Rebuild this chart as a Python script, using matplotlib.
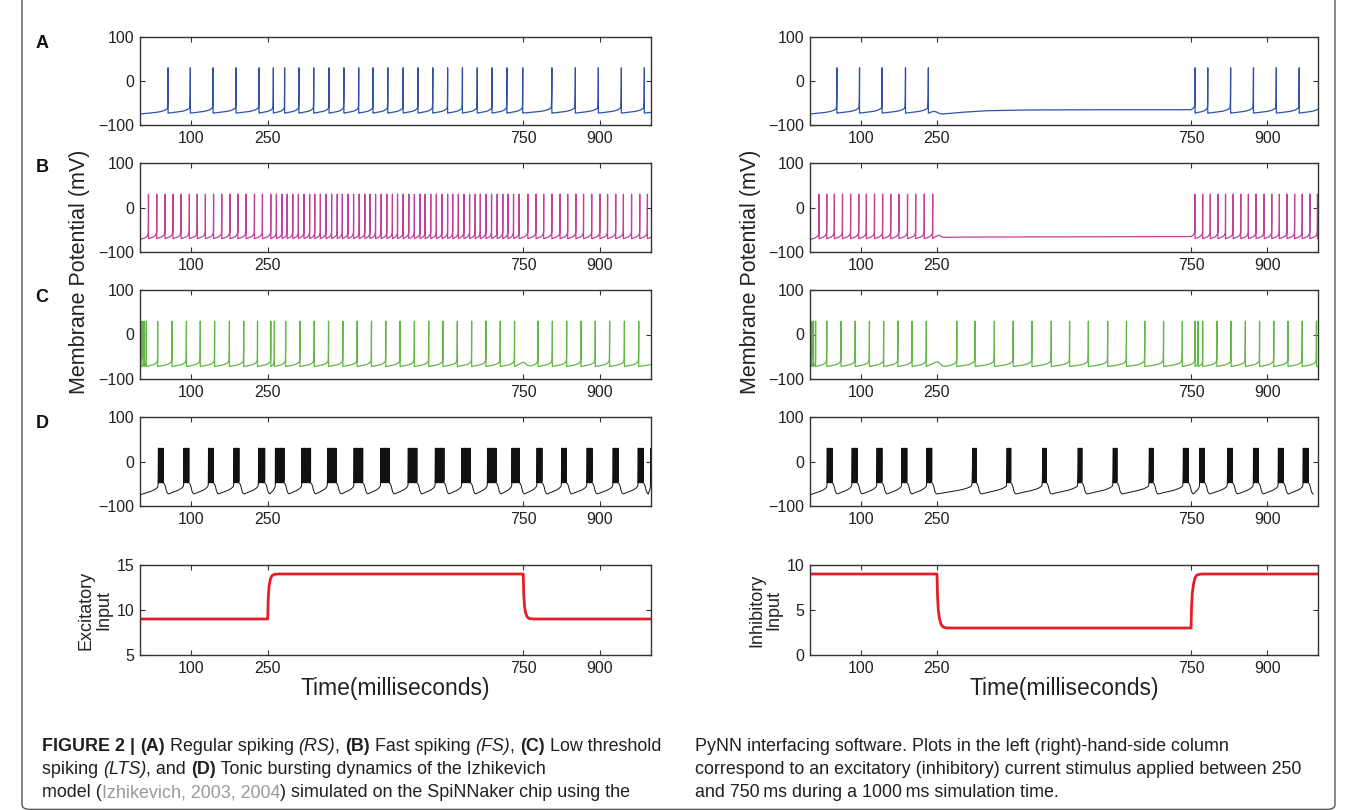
"""
Izhikevich neuron types on SpiNNaker: membrane potential traces for an
excitatory (left) and inhibitory (right) step stimulus, plus caption.
Output: out.png
"""

import numpy as np
import matplotlib
matplotlib.use("Agg")
import matplotlib.pyplot as plt
from matplotlib.patches import FancyBboxPatch

W, H = 1355, 810
FONT = ["Liberation Sans", "DejaVu Sans"]
plt.rcParams["font.family"] = FONT

TIME_TICKS = [100, 250, 750, 900]

# ---- spike times (ms) ----------------------------------------------------
RS_EXC = [55, 98.5, 143, 188, 233, 261, 283, 311, 340, 370, 399, 428, 456, 485,
          515, 544, 573, 602, 631, 660, 689, 718, 749, 806, 852, 897, 942, 987, 1030]
RS_INH = [53, 97.5, 142, 188, 233, 758, 783, 828, 873, 918, 963, 1004]
RS_INH_QUIET = [(240, -70), (245, -69), (250, -71), (255, -74), (262, -75),
                (300, -71), (350, -67.5), (420, -66), (500, -65.5), (750, -65.5)]

FS_EXC = [16.6, 32.8, 49, 64.4, 80.5, 96.6, 112, 128, 144, 160, 176, 191.6, 207.6,
          224, 239.6, 256, 267, 278, 288, 299, 310, 321, 332, 342, 353, 364, 375,
          386, 396, 407, 418, 429, 440, 450, 461, 472, 483, 494, 504, 515, 526,
          537, 548, 558, 569, 580, 591, 602, 612, 623, 634, 645, 656, 666, 677,
          688, 699, 710, 720, 731, 742, 759, 775, 790, 806, 822, 837, 853, 868,
          884, 900, 915, 931, 946, 962, 978, 993, 1009]
FS_INH = [17.8, 33, 48, 64, 80, 96, 111, 127, 143, 159, 175, 192, 208, 225, 241.5,
          758, 773, 788, 803, 818, 833, 848, 863, 878, 894, 909, 924, 939, 954,
          969, 984, 999, 1014]
FS_INH_QUIET = [(246, -66), (250, -64), (254, -62), (258, -65), (263, -67),
                (300, -66.5), (750, -65.5)]

LTS_EXC = [3.8, 8, 12.4, 34.6, 62.7, 90.9, 118, 146, 175, 203, 230, 256, 263, 285,
           313, 341, 369, 397, 425, 453, 481, 509, 537, 565, 593, 621, 649, 677,
           705, 733, 779, 807, 835, 863, 891, 919, 948, 976, 1012]
LTS_EXC_QUIET = [(742, -67), (747, -64), (750, -62), (754, -65), (759, -70),
                 (764, -71)]
LTS_INH = [3.4, 6.8, 11, 33, 61, 89, 117, 145, 173, 201, 229, 289, 325, 363, 400,
           437, 475, 511, 548, 586, 623, 659, 696, 733, 758, 764, 773, 801, 829,
           857, 885, 913, 941, 969, 997, 1030]
LTS_INH_QUIET = [(240, -66), (246, -63), (250, -61), (255, -64), (260, -70),
                 (266, -72)]

# tonic bursting: burst onsets (ms) and spikes per burst
TB_EXC_ON = [36, 86, 134, 184, 232, 265, 317, 367, 419, 471, 525, 578, 630, 680,
             728, 777, 825, 875, 926, 975, 999]
TB_EXC_N = [5, 5, 5, 5, 6, 8, 8, 8, 8, 8, 8, 8, 8, 8, 7, 5, 5, 5, 5, 5, 1]
TB_INH_ON = [34, 83, 132, 181, 230, 320, 388, 458, 528, 597, 668, 735, 767, 822,
             873, 922, 971]
TB_INH_N = [5, 5, 5, 5, 5, 4, 4, 4, 4, 4, 4, 5, 5, 5, 5, 5, 5]

# stimulus current, (time, value) points
EXC_T = [0, 250, 251, 252.5, 255, 258, 262, 270, 750, 751, 752.5, 755, 758, 762, 770, 1000]
EXC_V = [9, 9, 11.3, 12.6, 13.4, 13.8, 13.95, 14, 14, 11.7, 10.4, 9.6, 9.2, 9.05, 9, 9]
INH_T = [0, 250, 251, 252.5, 255, 258, 262, 270, 750, 751, 752.5, 755, 758, 762, 770, 1000]
INH_V = [9, 9, 6.6, 5.0, 4.0, 3.4, 3.1, 3, 3, 5.2, 6.8, 7.9, 8.6, 8.9, 9, 9]

COLORS = {"RS": "#2f52a6", "FS": "#c0409c", "LTS": "#62b746", "TB": "#111111",
          "input": "#e41e26"}


def rise(t0, t1, v_start, lin, curve, peak=30.0):
    n = max(int((t1 - t0) / 0.05), 6)
    s = np.linspace(0, 1, n)
    rest = peak - v_start - lin - curve
    return list(t0 + (t1 - t0) * s), list(v_start + lin * s + curve * s ** 6 + rest * s ** 150)


def spiking_trace(spikes, v0, v_reset, lin, curve, quiet=()):
    ts, vs = [], []
    pt, pv = 0.0, v0
    for sp in spikes:
        wps = [w for w in quiet if pt < w[0] < sp]
        if wps:
            ts += [pt] + [w[0] for w in wps]
            vs += [pv] + [w[1] for w in wps]
            pt, pv = wps[-1]
        a, b = rise(pt, sp, pv, lin, curve)
        ts += a
        vs += b
        pt, pv = sp, v_reset
    return np.array(ts), np.array(vs)


def burst_trace(onsets, counts, v0, gap=2.4):
    ts, vs = [], []
    pt, pv = 0.0, v0
    for on, n in zip(onsets, counts):
        a, b = rise(pt, on, pv, 13, 6)
        ts += a
        vs += b
        last = on
        for k in range(1, n):
            a, b = rise(last, last + gap, -48, 2, 3)
            ts += a
            vs += b
            last += gap
        decay_t = [last, last + 2, last + 4, last + 6, last + 8, last + 10]
        decay_v = [-48, -50, -56, -66, -71, -73]
        ts += decay_t
        vs += decay_v
        pt, pv = decay_t[-1], decay_v[-1]
    return np.array(ts), np.array(vs)


def frac(x0, y0, x1, y1):
    return [x0 / W, 1 - y1 / H, (x1 - x0) / W, (y1 - y0) / H]


def style_axes(ax, ylim, yticks):
    ax.set_xlim(0, 1000)
    ax.set_ylim(*ylim)
    ax.set_xticks(TIME_TICKS)
    ax.set_yticks(yticks)
    ax.tick_params(direction="in", top=True, right=True, length=3.5, width=0.8,
                   labelsize=11.5, pad=4, labelcolor="#222222", color="#333333")
    for sp in ax.spines.values():
        sp.set_linewidth(1.0)
        sp.set_color("#333333")


def draw_runs(fig, x, y, runs, size, color="#231f20"):
    r = fig.canvas.get_renderer()
    for text, style in runs:
        kw = dict(style)
        c = kw.pop("color", color)
        t = fig.text(x / W, 1 - y / H, text, fontsize=size, ha="left", va="baseline",
                     color=c, family=FONT, **kw)
        x += t.get_window_extent(renderer=r).width


def main():
    fig = plt.figure(figsize=(W / 100, H / 100), dpi=100)
    fig.patch.set_facecolor("white")

    # outer frame of the figure box
    frame = FancyBboxPatch((22 / W, 0.6 / H), (1335 - 22) / W, 1.2,
                           boxstyle="round,pad=0,rounding_size=0.006",
                           transform=fig.transFigure, fill=False,
                           edgecolor="#555555", linewidth=1.0)
    fig.add_artist(frame)

    columns = [(140, 651), (810, 1318)]
    rows = [(37, 125), (163, 252), (290, 379), (417, 506)]

    traces = [
        [spiking_trace(RS_EXC, -75, -73, 6, 7),
         spiking_trace(FS_EXC, -72, -70, 6, 8),
         spiking_trace(LTS_EXC, -62, -72, 6, 7, LTS_EXC_QUIET),
         burst_trace(TB_EXC_ON, TB_EXC_N, -75)],
        [spiking_trace(RS_INH, -75, -73, 6, 7, RS_INH_QUIET),
         spiking_trace(FS_INH, -72, -70, 6, 8, FS_INH_QUIET),
         spiking_trace(LTS_INH, -62, -72, 6, 7, LTS_INH_QUIET),
         burst_trace(TB_INH_ON, TB_INH_N, -75)],
    ]
    kinds = ["RS", "FS", "LTS", "TB"]
    widths = [0.9, 0.9, 0.9, 0.7]

    for ci, (x0, x1) in enumerate(columns):
        for ri, (y0, y1) in enumerate(rows):
            ax = fig.add_axes(frac(x0, y0, x1, y1))
            t, v = traces[ci][ri]
            ax.plot(t, v, color=COLORS[kinds[ri]], linewidth=widths[ri])
            style_axes(ax, (-100, 100), [-100, 0, 100])

        ax = fig.add_axes(frac(x0, 565, x1, 655))
        if ci == 0:
            ax.plot(EXC_T, EXC_V, color=COLORS["input"], linewidth=2.0)
            style_axes(ax, (5, 15), [5, 10, 15])
            ylab = "Excitatory\nInput"
        else:
            ax.plot(INH_T, INH_V, color=COLORS["input"], linewidth=2.0)
            style_axes(ax, (0, 10), [0, 5, 10])
            ylab = "Inhibitory\nInput"
        fig.text((x0 - 45) / W, 1 - 610 / H, ylab, rotation=90, ha="center",
                 va="center", fontsize=13, linespacing=1.0, color="#222222")
        fig.text((x0 + x1) / 2 / W, 1 - 688 / H, "Time(milliseconds)", ha="center",
                 va="center", fontsize=16.5, color="#222222")
        fig.text((x0 - 60) / W, 1 - 272 / H, "Membrane Potential (mV)", rotation=90,
                 ha="center", va="center", fontsize=15.5, color="#222222")

    for letter, y in zip("ABCD", [43, 168, 297, 423]):
        fig.text(42 / W, 1 - y / H, letter, fontsize=13, fontweight="bold",
                 ha="center", va="center", color="#111111")

    b = {"fontweight": "bold"}
    it = {"style": "italic"}
    n = {}
    gray = {"color": "#9a9a9a"}
    size = 12.9
    draw_runs(fig, 42, 751, [("FIGURE 2 | ", b), ("(A)", b), (" Regular spiking ", n),
                             ("(RS)", it), (", ", n), ("(B)", b), (" Fast spiking ", n),
                             ("(FS)", it), (", ", n), ("(C)", b), (" Low threshold", n)], size)
    draw_runs(fig, 42, 774, [("spiking ", n), ("(LTS)", it), (", and ", n), ("(D)", b),
                             (" Tonic bursting dynamics of the Izhikevich", n)], size)
    draw_runs(fig, 42, 797, [("model (", n), ("Izhikevich, 2003, 2004", gray),
                             (") simulated on the SpiNNaker chip using the", n)], size)
    draw_runs(fig, 695, 751, [("PyNN interfacing software. Plots in the left (right)-hand-side column", n)], size)
    draw_runs(fig, 695, 774, [("correspond to an excitatory (inhibitory) current stimulus applied between 250", n)], size)
    draw_runs(fig, 695, 797, [("and 750\u2009ms during a 1000\u2009ms simulation time.", n)], size)

    fig.savefig("out.png", dpi=100, facecolor="white")
    plt.close(fig)


if __name__ == "__main__":
    main()
